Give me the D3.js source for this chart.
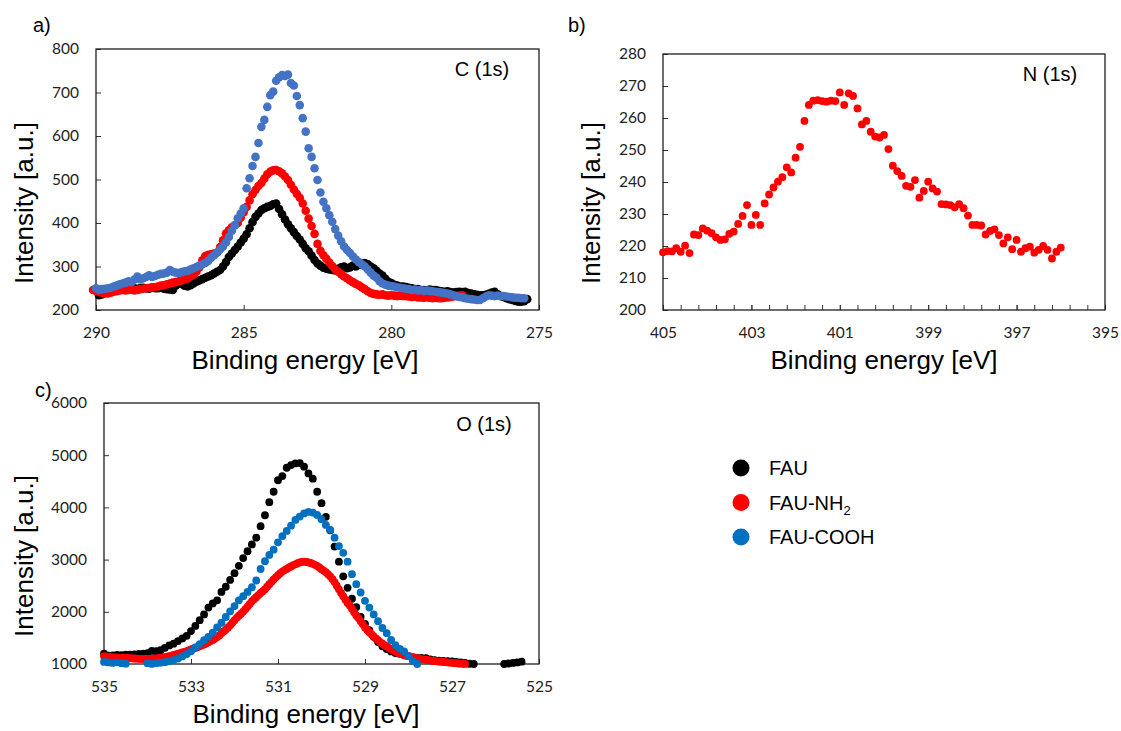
<!DOCTYPE html>
<html>
<head>
<meta charset="utf-8">
<script src="https://cdn.jsdelivr.net/npm/d3@7"></script>
<style>
  body { margin: 0; background: #fff; }
  svg { display: block; }
  .tick text { font-family: Lato, "Open Sans", sans-serif; font-size: 15.5px; fill: #222; }
  .lbl { font-family: "Liberation Sans", Arial, sans-serif; fill: #000; }
</style>
</head>
<body>
<div id="chart"></div>
<script>
// ---------- data ----------
// (a) C 1s : energies start at *Start and go down by 0.1 eV per point
const cFauStart = 289.9, cNh2Start = 290.1, cCoohStart = 290.0, cStep = 0.1;
const cFau = [
  234, 236, 240, 242, 243, 245, 246, 247, 247, 248,
  249, 248, 250, 249, 250, 251, 250, 249, 251, 250,
  250, 251, 249, 248, 247, 246, 256, 264, 260, 256,
  254, 257, 261, 265, 268, 271, 274, 277, 280, 284,
  288, 292, 300, 310, 322, 330, 338, 346, 355, 364,
  374, 388, 402, 414, 422, 430, 434, 437, 439, 443,
  445, 432, 420, 408, 397, 388, 379, 370, 362, 352,
  342, 335, 325, 315, 307, 302, 297, 295, 293, 292,
  291, 295, 298, 300, 296, 298, 302, 300, 304, 306,
  308, 305, 300, 296, 290, 284, 279, 272, 265, 262,
  258, 256, 254, 254, 253, 251, 250, 248, 248, 246,
  246, 245, 247, 246, 246, 244, 243, 242, 243, 241,
  240, 241, 242, 241, 242, 239, 238, 236, 235, 234,
  234, 235, 237, 240, 242, 236, 232, 230, 227, 225,
  223, 221, 219, 219, 220, 225
];
const cNh2 = [
  246, 244, 242, 240, 238, 238, 240, 242, 243, 245,
  246, 245, 246, 247, 245, 246, 248, 249, 250, 251,
  252, 253, 254, 256, 257, 259, 261, 263, 264, 266,
  268, 270, 273, 277, 281, 288, 298, 314, 324, 327,
  328, 330, 332, 345, 360, 376, 383, 390, 395, 400,
  412, 425, 437, 452, 466, 476, 485, 492, 502, 512,
  518, 521, 522, 519, 514, 507, 499, 488, 477, 467,
  458, 445, 428, 410, 393, 375, 352, 336, 326, 318,
  309, 301, 293, 288, 282, 277, 273, 268, 264, 260,
  257, 252, 248, 243, 239, 237, 236, 235, 236, 234,
  233, 234, 233, 232, 233, 232, 232, 231, 230, 231,
  229, 229, 228, 229, 228, 227, 228, 227, 227, 228,
  229, 230, 231, 232, 233, 234
];
const cCooh = [
  250, 246, 248, 249, 250, 251, 254, 256, 259, 261,
  263, 266, 264, 270, 277, 270, 273, 276, 280, 276,
  278, 281, 283, 284, 286, 292, 288, 286, 285, 287,
  289, 290, 293, 296, 299, 302, 305, 308, 313, 320,
  326, 332, 339, 346, 356, 368, 382, 395, 411, 422,
  434, 480, 503, 531, 552, 584, 621, 637, 667, 694,
  702, 727, 735, 740, 738, 741, 722, 716, 692, 671,
  641, 610, 572, 552, 526, 499, 470, 449, 434, 418,
  403, 386, 371, 358, 346, 338, 331, 323, 316, 310,
  305, 300, 293, 286, 279, 274, 266, 261, 258, 256,
  255, 254, 252, 251, 250, 249, 248, 246, 247, 245,
  246, 244, 245, 244, 243, 242, 241, 240, 239, 238,
  236, 234, 232, 230, 229, 227, 226, 225, 224, 223,
  223, 227, 231, 234, 233, 232, 233, 232, 232, 231,
  230, 229, 228, 228, 227, 227
];

// (b) N 1s, FAU-NH2 only
const nNh2Start = 405.0, nStep = 0.1;
const nNh2 = [
  218.0, 218.4, 218.3, 219.3, 218.2, 220.1, 217.8, 223.6, 223.4, 225.5,
  224.8, 224.0, 222.7, 221.9, 222.1, 223.8, 224.5, 226.9, 229.4, 232.8,
  226.6, 229.7, 226.6, 233.3, 236.1, 238.3, 240.1, 241.5, 244.6, 243.0,
  247.6, 251.0, 259.1, 264.1, 265.4, 265.6, 265.3, 265.1, 265.4, 265.3,
  268.0, 264.1, 267.7, 266.9, 263.0, 258.0, 259.1, 255.7, 254.2, 253.9,
  254.7, 250.3, 245.1, 243.4, 241.9, 238.8, 238.5, 240.6, 235.1, 237.2,
  240.1, 238.0, 237.0, 233.1, 233.0, 232.8, 232.1, 233.1, 231.8, 229.5,
  226.6, 226.6, 226.4, 223.6, 224.7, 225.2, 223.4, 220.8, 222.7, 219.0,
  221.9, 218.2, 219.3, 219.8, 217.9, 218.8, 220.0, 218.8, 216.1, 218.2,
  219.5
];

// (c) O 1s
const oFauStart = 535.0, oFauStep = 0.1;
const oFau = [
  1200, 1160, 1165, 1175, 1170, 1178, 1180, 1185, 1195, 1200,
  1210, 1250, 1245, 1265, 1310, 1355, 1390, 1440, 1490, 1540,
  1630, 1730, 1840, 1950, 2080, 2160, 2220, 2380, 2480, 2610,
  2740, 2880, 3030, 3160, 3290, 3420, 3640, 3850, 4100, 4300,
  4520, 4600, 4760, 4810, 4845, 4850, 4780, 4650, 4550, 4300,
  4080, 3820, 3560, 3250, 2960, 2680, 2460, 2250, 2090, 1900,
  1770, 1650, 1520, 1420, 1340, 1285, 1240, 1210, 1195, 1180,
  1150, 1120, 1115, 1115, 1110, 1090, 1075, 1065, 1060, 1055,
  1050, 1040, 1030, 1020, 1005, 1000, 985, 970, 960, 955,
  960, 980, 1000, 1010, 1020, 1030, 1045
];
const oNh2Start = 535.0, oNh2Step = 0.05;
const oNh2 = [
  1150, 1140, 1135, 1130, 1128, 1125, 1122, 1120, 1118, 1116,
  1115, 1112, 1110, 1108, 1105, 1102, 1100, 1098, 1097, 1096,
  1096, 1097, 1100, 1104, 1108, 1113, 1118, 1125, 1132, 1140,
  1150, 1160, 1172, 1183, 1195, 1207, 1220, 1233, 1247, 1262,
  1278, 1293, 1308, 1325, 1340, 1357, 1375, 1395, 1418, 1440,
  1462, 1488, 1515, 1548, 1590, 1625, 1660, 1700, 1740, 1790,
  1840, 1885, 1925, 1965, 2005, 2050, 2100, 2150, 2200, 2240,
  2280, 2320, 2360, 2395, 2430, 2480, 2530, 2575, 2620, 2660,
  2700, 2740, 2770, 2800, 2820, 2850, 2870, 2895, 2910, 2930,
  2945, 2955, 2962, 2955, 2945, 2935, 2920, 2900, 2880, 2850,
  2815, 2790, 2760, 2720, 2680, 2630, 2570, 2500, 2430, 2360,
  2300, 2230, 2170, 2120, 2060, 1990, 1930, 1880, 1820, 1760,
  1700, 1650, 1610, 1570, 1530, 1490, 1455, 1420, 1390, 1360,
  1335, 1310, 1285, 1260, 1240, 1220, 1200, 1185, 1170, 1160,
  1150, 1140, 1130, 1120, 1110, 1100, 1095, 1088, 1082, 1075,
  1068, 1062, 1058, 1052, 1048, 1043, 1040, 1035, 1030, 1027,
  1022, 1018, 1015, 1010, 1008, 1005, 1002
];
const oCoohStart = 535.0, oCoohStep = 0.1;
const oCooh = [
  1040, 1030, 1020, 1032, 1015, 1006, 985, 975, 970, 990,
  1015, 1002, 1015, 1025, 1035, 1051, 1075, 1105, 1145, 1190,
  1242, 1320, 1380, 1455, 1520, 1600, 1700, 1790, 1900, 2010,
  2110, 2220, 2300, 2380, 2470, 2600, 2820, 2970, 3090, 3190,
  3330, 3450, 3550, 3650, 3760, 3825, 3885, 3915, 3900, 3855,
  3775, 3665, 3570, 3420, 3260, 3130, 2960, 2720, 2530, 2370,
  2210, 2080, 1950, 1820, 1690, 1590, 1460, 1360, 1290, 1240,
  1150, 1060, 1000
];

// axes tick labels
const cTicksX = [290, 285, 280, 275];
const cTicksY = [200, 300, 400, 500, 600, 700, 800];
const nTicksX = [405, 403, 401, 399, 397, 395];
const nTicksY = [200, 210, 220, 230, 240, 250, 260, 270, 280];
const oTicksX = [535, 533, 531, 529, 527, 525];
const oTicksY = [1000, 2000, 3000, 4000, 5000, 6000];

const legendNames = ["FAU", "FAU-NH2", "FAU-COOH"];
const legendColors = ["#000000", "#ff0000", "#0070c0"];

// ---------- drawing ----------
const W = 1121, H = 731;
const svg = d3.select("#chart").append("svg")
  .attr("width", W).attr("height", H);
svg.append("rect").attr("width", W).attr("height", H).attr("fill", "#fff");

function drawPanel(p) {
  const x = d3.scaleLinear().domain(p.xDomain).range([p.left, p.right]);
  const y = d3.scaleLinear().domain(p.yDomain).range([p.bottom, p.top]);
  const g = svg.append("g");

  if (p.minor) {
    g.append("g")
      .attr("transform", `translate(0,${p.bottom})`)
      .call(d3.axisBottom(x).tickValues(p.minor).tickSize(-5).tickFormat(""));
  }
  g.append("g")
    .attr("transform", `translate(0,${p.bottom})`)
    .call(d3.axisBottom(x).tickValues(p.xTicks).tickSize(-5).tickPadding(17).tickFormat(d3.format("d")));
  g.append("g")
    .attr("transform", `translate(${p.left},0)`)
    .call(d3.axisLeft(y).tickValues(p.yTicks).tickSize(-5).tickPadding(17).tickFormat(d3.format("d")));
  g.selectAll(".domain").remove();
  g.selectAll(".tick line").attr("stroke", "#333");

  g.append("rect")
    .attr("x", p.left).attr("y", p.top)
    .attr("width", p.right - p.left).attr("height", p.bottom - p.top)
    .attr("fill", "none").attr("stroke", "#1f1f1f").attr("stroke-width", 1.3);

  // points outside the value axis are hidden, like the spreadsheet does
  p.series.forEach(s => {
    const pts = s.values
      .map((v, i) => ({ e: s.start - i * s.step, v }))
      .filter(d => d.v >= p.yDomain[0]);
    g.append("g").selectAll("circle")
      .data(pts)
      .join("circle")
        .attr("cx", d => x(d.e))
        .attr("cy", d => y(d.v))
        .attr("r", p.r)
        .attr("fill", s.color);
  });

  g.append("text").attr("class", "lbl")
    .attr("x", p.xTitle[0]).attr("y", p.xTitle[1])
    .attr("text-anchor", "middle").attr("font-size", 26)
    .text("Binding energy [eV]");
  g.append("text").attr("class", "lbl")
    .attr("transform", `translate(${p.yTitle[0]},${p.yTitle[1]}) rotate(-90)`)
    .attr("text-anchor", "middle").attr("font-size", 26)
    .text("Intensity [a.u.]");
  g.append("text").attr("class", "lbl")
    .attr("x", p.tag[0]).attr("y", p.tag[1])
    .attr("font-size", 20).text(p.tagText);
  g.append("text").attr("class", "lbl")
    .attr("x", p.element[0]).attr("y", p.element[1])
    .attr("text-anchor", "middle").attr("font-size", 20)
    .text(p.elementText);
}

drawPanel({
  left: 96, right: 539, top: 49, bottom: 310,
  xDomain: [290, 275], yDomain: [200, 800],
  xTicks: cTicksX, yTicks: cTicksY, r: 4.3,
  series: [
    { start: cFauStart, step: cStep, values: cFau, color: "#000000" },
    { start: cNh2Start, step: cStep, values: cNh2, color: "#ff0000" },
    { start: cCoohStart, step: cStep, values: cCooh, color: "#4472c4" }
  ],
  xTitle: [305, 369], yTitle: [33, 203],
  tag: [33, 32], tagText: "a)",
  element: [482, 76], elementText: "C (1s)"
});

drawPanel({
  left: 663, right: 1105, top: 54, bottom: 310,
  xDomain: [405, 395], yDomain: [200, 280],
  xTicks: nTicksX, yTicks: nTicksY, r: 3.9,
  minor: d3.range(0, 26).map(i => 395 + i * 0.4),
  series: [
    { start: nNh2Start, step: nStep, values: nNh2, color: "#ff0000" }
  ],
  xTitle: [884, 369], yTitle: [600, 203],
  tag: [568, 32], tagText: "b)",
  element: [1050, 81], elementText: "N (1s)"
});

drawPanel({
  left: 104, right: 539, top: 403, bottom: 664,
  xDomain: [535, 525], yDomain: [1000, 6000],
  xTicks: oTicksX, yTicks: oTicksY, r: 3.9,
  series: [
    { start: oFauStart, step: oFauStep, values: oFau, color: "#000000" },
    { start: oNh2Start, step: oNh2Step, values: oNh2, color: "#ff0000" },
    { start: oCoohStart, step: oCoohStep, values: oCooh, color: "#0070c0" }
  ],
  xTitle: [306, 723], yTitle: [33, 556],
  tag: [35, 397], tagText: "c)",
  element: [484, 431], elementText: "O (1s)"
});

// legend
const legend = svg.append("g");
legendNames.forEach((name, i) => {
  const cy = 468 + i * 34.5;
  legend.append("circle").attr("cx", 741).attr("cy", cy).attr("r", 8.5)
    .attr("fill", legendColors[i]);
  const t = legend.append("text").attr("class", "lbl")
    .attr("x", 769).attr("y", cy + 7).attr("font-size", 20);
  const m = name.match(/^(.*?)(\d)$/);
  if (m) {
    t.append("tspan").text(m[1]);
    t.append("tspan").attr("font-size", 13).attr("dy", 5).text(m[2]);
  } else {
    t.text(name);
  }
});
</script>
</body>
</html>
